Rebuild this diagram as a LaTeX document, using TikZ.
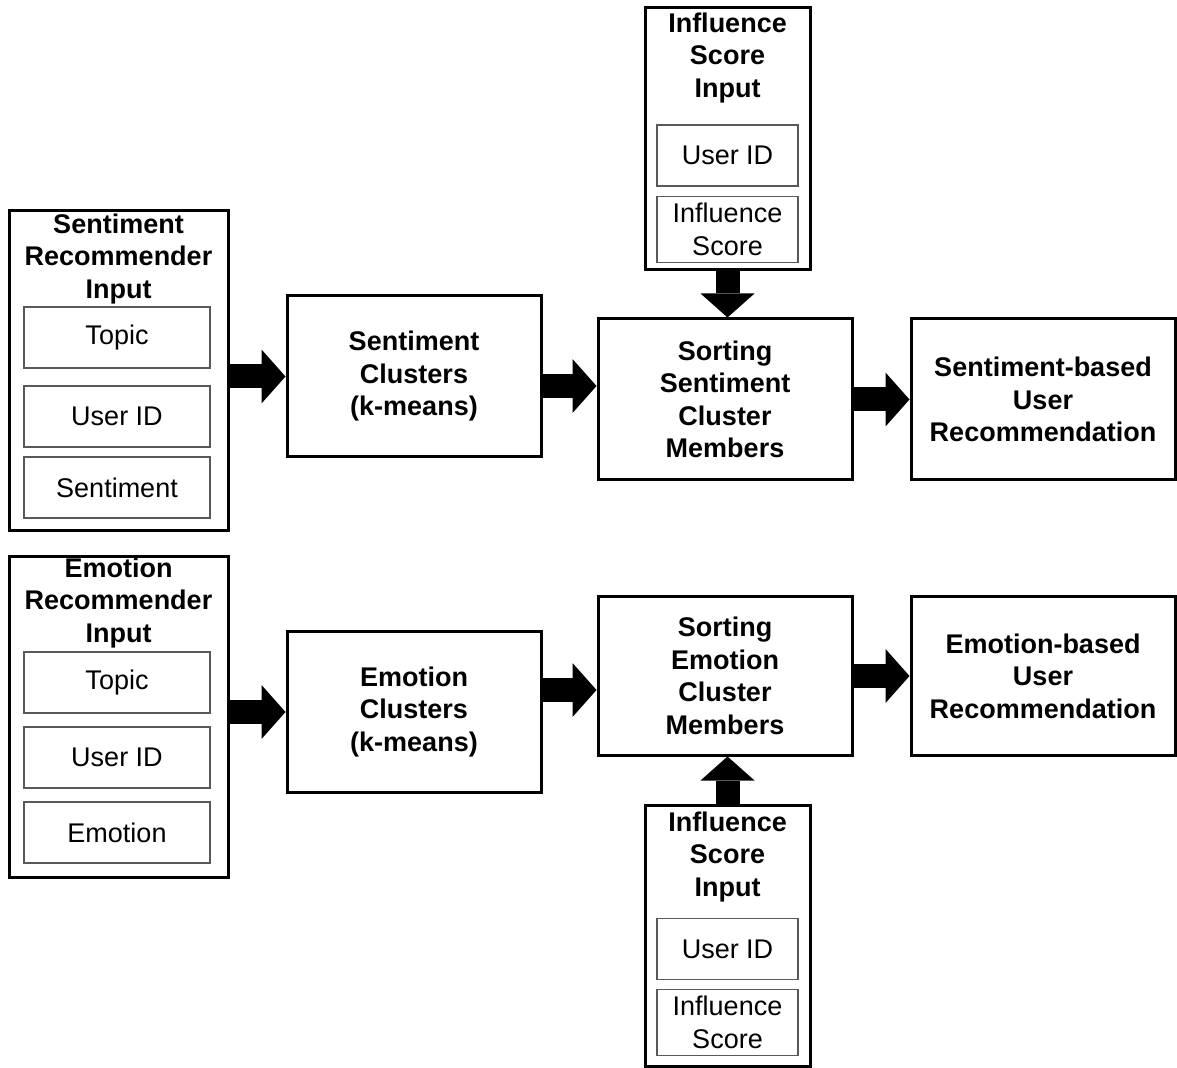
\documentclass[tikz,border=0pt]{standalone}
\usepackage{fontspec}
\setmainfont{Liberation Sans}
\usepackage{tikz}
\usetikzlibrary{arrows.meta}
\tikzset{
  outerbox/.style={draw,line width=1.5pt,fill=white},
  fieldbox/.style={draw=black!65,line width=0.55pt,minimum height=30.5pt,
    font=\fontsize{13.5}{16.25}\selectfont},
  titletext/.style={align=center,font=\fontsize{13.5}{16.25}\selectfont\bfseries},
  stepbox/.style={draw,line width=1.5pt,minimum width=127pt,align=center,
    font=\fontsize{13.5}{16.25}\selectfont\bfseries},
  fatarrow/.style={line width=12pt,
    -{Triangle[length=12pt 0 0,width=27pt 0 0,line width=0pt 0 0]}}
}

\begin{document}
\begin{tikzpicture}[x=0.5pt,y=-0.5pt]
\useasboundingbox[fill=white] (0,0) rectangle (1177,1068);

% sentiment row
\node [outerbox,minimum width=109.5pt,minimum height=160pt] (sentIn) at (118.5,371) {};
\node [titletext] (sentInTitle) at (118.5,259) {Sentiment\\Recommender\\Input};
\node [fieldbox,minimum width=93pt] (sentTopic) at (117,337.5) {Topic};
\node [fieldbox,minimum width=93pt] (sentUser) at (117,416.5) {User ID};
\node [fieldbox,minimum width=93pt] (sentValue) at (117,487.5) {Sentiment};

\node [stepbox,minimum height=80.5pt] (sentClus) at (414,376.5) {Sentiment\\Clusters\\(k-means)};
\node [stepbox,minimum height=80.5pt] (sortSent) at (725,399.5) {Sorting\\Sentiment\\Cluster\\Members};
\node [stepbox,minimum width=132pt,minimum height=80.5pt] (recSent) at (1043,399.5) {Sentiment-based\\User\\Recommendation};

\node [outerbox,minimum width=82.5pt,minimum height=131pt] (inflTop) at (727.5,139) {};
\node [titletext] (inflTopTitle) at (727.5,58) {Influence\\Score\\Input};
\node [fieldbox,minimum width=70.5pt] (inflTopUser) at (727.5,155.5) {User ID};
\node [fieldbox,minimum width=70.5pt,align=center] (inflTopScore) at (727.5,229.5) {Influence\\Score};

% emotion row
\node [outerbox,minimum width=109.5pt,minimum height=160pt] (emoIn) at (118.5,717) {};
\node [titletext] (emoInTitle) at (118.5,603) {Emotion\\Recommender\\Input};
\node [fieldbox,minimum width=93pt] (emoTopic) at (117,682.5) {Topic};
\node [fieldbox,minimum width=93pt] (emoUser) at (117,757.5) {User ID};
\node [fieldbox,minimum width=93pt] (emoValue) at (117,832.5) {Emotion};

\node [stepbox,minimum height=80pt] (emoClus) at (414,712) {Emotion\\Clusters\\(k-means)};
\node [stepbox,minimum height=79pt] (sortEmo) at (725,676) {Sorting\\Emotion\\Cluster\\Members};
\node [stepbox,minimum width=132pt,minimum height=79pt] (recEmo) at (1043,676) {Emotion-based\\User\\Recommendation};

\node [outerbox,minimum width=82.5pt,minimum height=130.5pt] (inflBot) at (727.5,935.5) {};
\node [titletext] (inflBotTitle) at (727.5,857) {Influence\\Score\\Input};
\node [fieldbox,minimum width=70.5pt] (inflBotUser) at (727.5,949) {User ID};
\node [fieldbox,minimum width=70.5pt,align=center] (inflBotScore) at (727.5,1022.5) {Influence\\Score};

% arrows
\draw [fatarrow] (sentClus.west -| sentIn.east) -- (sentClus.west);
\draw [fatarrow] ([yshift=-4.75pt]sentClus.east) -- ([yshift=-4.75pt]sentClus.east -| sortSent.west);
\draw [fatarrow] (sortSent.east) -- (recSent.west);
\draw [fatarrow] (inflTop.south) -- (inflTop.south |- sortSent.north);

\draw [fatarrow] (emoClus.west -| emoIn.east) -- (emoClus.west);
\draw [fatarrow] ([yshift=11pt]emoClus.east) -- ([yshift=11pt]emoClus.east -| sortEmo.west);
\draw [fatarrow] (sortEmo.east) -- (recEmo.west);
\draw [fatarrow] (inflBot.north) -- (inflBot.north |- sortEmo.south);
\end{tikzpicture}
\end{document}
